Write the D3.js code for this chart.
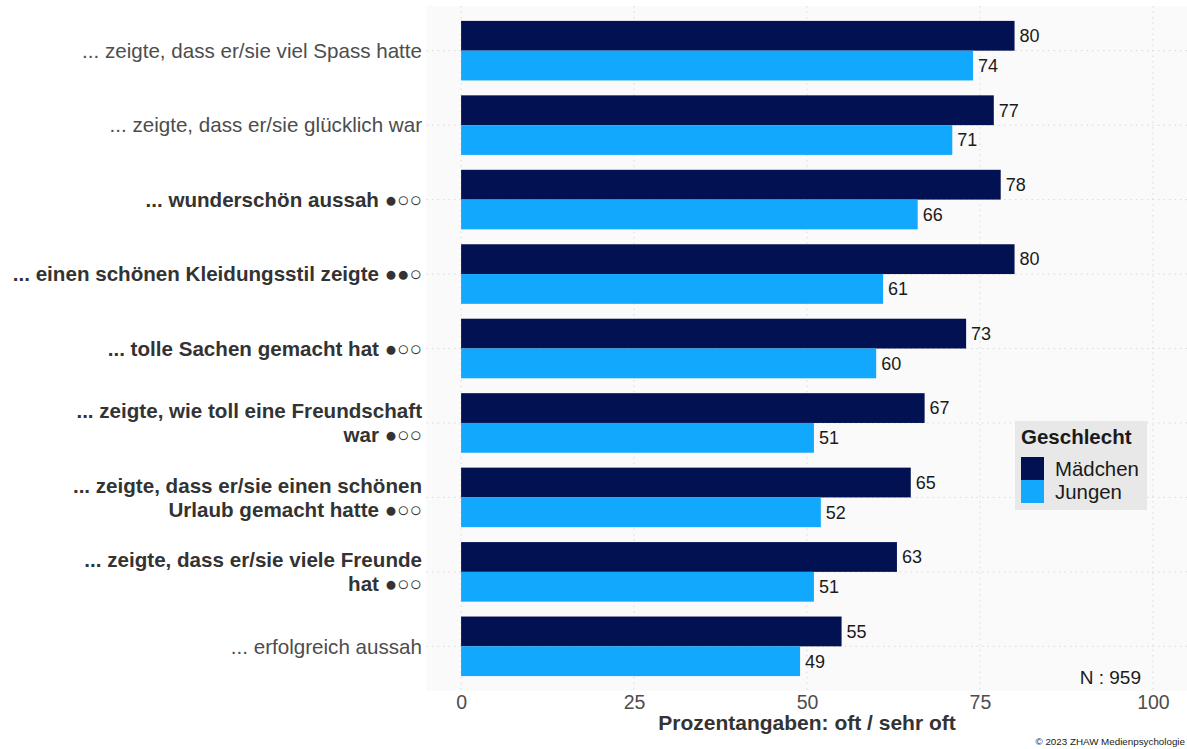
<!DOCTYPE html>
<html>
<head>
<meta charset="utf-8">
<script src="https://cdn.jsdelivr.net/npm/d3@7"></script>
<style>
  body { margin: 0; background: #fff; }
  svg { font-family: "Liberation Sans", Arial, sans-serif; }
</style>
</head>
<body>
<svg id="chart" width="1187" height="749"></svg>
<script>
// Kategorien (Zeilen von oben nach unten), zweizeilige Labels als Arrays
const categories = [
  ["... zeigte, dass er/sie viel Spass hatte"],
  ["... zeigte, dass er/sie glücklich war"],
  ["... wunderschön aussah ●○○"],
  ["... einen schönen Kleidungsstil zeigte ●●○"],
  ["... tolle Sachen gemacht hat ●○○"],
  ["... zeigte, wie toll eine Freundschaft", "war ●○○"],
  ["... zeigte, dass er/sie einen schönen", "Urlaub gemacht hatte ●○○"],
  ["... zeigte, dass er/sie viele Freunde", "hat ●○○"],
  ["... erfolgreich aussah"]
];
const boldRows = [false, false, true, true, true, true, true, true, false];
const maedchen = [80, 77, 78, 80, 73, 67, 65, 63, 55];
const jungen = [74, 71, 66, 61, 60, 51, 52, 51, 49];
const seriesNames = ["Mädchen", "Jungen"];
const seriesColors = ["#021152", "#12a8fe"];
const xTicks = [0, 25, 50, 75, 100];

const svg = d3.select("#chart");
const panel = { left: 426.5, right: 1187.5, top: 6, bottom: 691 };

// x-Achse mit 5% Erweiterung wie ggplot
const x = d3.scaleLinear()
  .domain([-5, 105])
  .range([panel.left, panel.right]);

// Kategorien mit 0.6 Einheiten Rand
const y = d3.scaleLinear()
  .domain([0.4, categories.length + 0.6])
  .range([panel.top, panel.bottom]);

const barH = (y(1) - y(0)) * 0.4;

// Hintergrund des Panels
svg.append("rect")
  .attr("x", panel.left)
  .attr("y", panel.top)
  .attr("width", panel.right - panel.left)
  .attr("height", panel.bottom - panel.top)
  .attr("fill", "#fafafa");

// Gitterlinien
svg.append("g")
  .selectAll("line")
  .data(xTicks)
  .enter()
  .append("line")
  .attr("x1", d => x(d))
  .attr("x2", d => x(d))
  .attr("y1", panel.top)
  .attr("y2", panel.bottom)
  .attr("stroke", "#d9d9d9")
  .attr("stroke-width", 1)
  .attr("stroke-dasharray", "1.5,4");

svg.append("g")
  .selectAll("line")
  .data(categories)
  .enter()
  .append("line")
  .attr("x1", panel.left)
  .attr("x2", panel.right)
  .attr("y1", (d, i) => y(i + 1))
  .attr("y2", (d, i) => y(i + 1))
  .attr("stroke", "#d9d9d9")
  .attr("stroke-width", 1)
  .attr("stroke-dasharray", "1.5,4");

// Balken
const rows = categories.map((c, i) => ({ i, m: maedchen[i], j: jungen[i] }));

svg.append("g")
  .selectAll("rect")
  .data(rows)
  .enter()
  .append("rect")
  .attr("x", x(0))
  .attr("y", d => y(d.i + 1) - barH)
  .attr("width", d => x(d.m) - x(0))
  .attr("height", barH)
  .attr("fill", seriesColors[0]);

svg.append("g")
  .selectAll("rect")
  .data(rows)
  .enter()
  .append("rect")
  .attr("x", x(0))
  .attr("y", d => y(d.i + 1))
  .attr("width", d => x(d.j) - x(0))
  .attr("height", barH)
  .attr("fill", seriesColors[1]);

// Wertelabels
const valueLabels = svg.append("g")
  .attr("font-size", "18px")
  .attr("fill", "#1a1a1a");

valueLabels.selectAll(".lm")
  .data(rows)
  .enter()
  .append("text")
  .attr("x", d => x(d.m) + 5)
  .attr("y", d => y(d.i + 1) - barH / 2)
  .attr("dy", "0.35em")
  .text(d => d.m);

valueLabels.selectAll(".lj")
  .data(rows)
  .enter()
  .append("text")
  .attr("x", d => x(d.j) + 5)
  .attr("y", d => y(d.i + 1) + barH / 2)
  .attr("dy", "0.35em")
  .text(d => d.j);

// y-Achsenlabels
const yLabels = svg.append("g")
  .attr("text-anchor", "end")
  .attr("font-size", "20.6px");

yLabels.selectAll("text")
  .data(categories)
  .enter()
  .append("text")
  .attr("x", 422)
  .attr("y", (d, i) => y(i + 1) - (d.length - 1) * 12)
  .attr("font-weight", (d, i) => boldRows[i] ? "bold" : "normal")
  .attr("fill", (d, i) => boldRows[i] ? "#333333" : "#4d4d4d")
  .each(function (d) {
    const t = d3.select(this);
    d.forEach((line, k) => {
      t.append("tspan")
        .attr("x", 422)
        .attr("dy", k === 0 ? "0.35em" : "24px")
        .text(line);
    });
  });

// x-Achse
const xAxis = d3.axisBottom(x)
  .tickValues(xTicks)
  .tickSize(0)
  .tickPadding(4);

svg.append("g")
  .attr("transform", `translate(0,${panel.bottom})`)
  .call(xAxis)
  .call(g => g.select(".domain").remove())
  .call(g => g.selectAll("text")
    .attr("font-family", "Liberation Sans, Arial, sans-serif")
    .attr("font-size", "19.5px")
    .attr("fill", "#4d4d4d"));

svg.append("text")
  .attr("x", x(50))
  .attr("y", 730)
  .attr("text-anchor", "middle")
  .attr("font-size", "21px")
  .attr("font-weight", "bold")
  .attr("fill", "#333333")
  .text("Prozentangaben: oft / sehr oft");

// Legende
const legend = svg.append("g").attr("transform", "translate(1015,421)");
legend.append("rect")
  .attr("width", 132)
  .attr("height", 89)
  .attr("fill", "#e8e8e8");
legend.append("text")
  .attr("x", 6)
  .attr("y", 23)
  .attr("font-size", "20.5px")
  .attr("font-weight", "bold")
  .attr("fill", "#1a1a1a")
  .text("Geschlecht");
seriesNames.forEach((name, k) => {
  legend.append("rect")
    .attr("x", 6)
    .attr("y", 36 + k * 23)
    .attr("width", 23)
    .attr("height", 23)
    .attr("fill", seriesColors[k]);
  legend.append("text")
    .attr("x", 40)
    .attr("y", 36 + k * 23 + 11.5)
    .attr("dy", "0.35em")
    .attr("font-size", "20.4px")
    .attr("fill", "#1a1a1a")
    .text(name);
});

// Stichprobengrösse
svg.append("text")
  .attr("x", 1141)
  .attr("y", 684)
  .attr("text-anchor", "end")
  .attr("font-size", "19px")
  .attr("fill", "#1a1a1a")
  .text("N : 959");

svg.append("text")
  .attr("x", 1185)
  .attr("y", 745)
  .attr("text-anchor", "end")
  .attr("font-size", "9.8px")
  .attr("fill", "#1a1a1a")
  .text("© 2023 ZHAW Medienpsychologie");
</script>
</body>
</html>
